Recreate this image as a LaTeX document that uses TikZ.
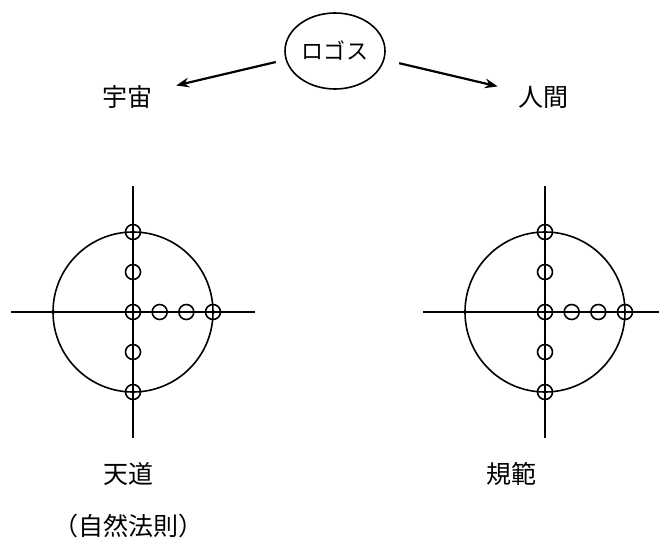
\documentclass[tikz,border=0pt]{standalone}
\usepackage{fontspec}
\newfontfamily\jpfont{Noto Sans CJK JP}
\usetikzlibrary{arrows.meta, positioning, calc, shapes.geometric}

\tikzset{
    word/.style={font=\jpfont\fontsize{25}{25}\selectfont, inner sep=0pt},
    pip/.style={circle, draw, minimum size=15pt, inner sep=0pt},
    ring/.style={circle, draw, minimum size=160pt, inner sep=0pt},
}

\begin{document}
\begin{tikzpicture}[>=Stealth, x=1pt, y=-1pt, line width=1.6pt]
    \useasboundingbox (0,0) rectangle (659,538);

    % -------------------------------------------------------------
    % Logos and its two branches
    % -------------------------------------------------------------
    \node (logos) [ellipse, draw, minimum width=100pt, minimum height=76pt,
        inner sep=0pt, font=\jpfont\fontsize{22}{22}\selectfont] at (335,51) {ロゴス};
    \node (uchu) [word] at (127,97) {宇宙};
    \node (ningen) [word] at (543,97) {人間};

    \draw[->, line width=2.2pt, shorten <=10pt, shorten >=24pt] (logos.190) -- ([yshift=6pt]uchu.east);
    \draw[->, line width=2.2pt, shorten <=15pt, shorten >=20pt] (logos.-10) -- ([yshift=6pt]ningen.west);

    % -------------------------------------------------------------
    % (left) cosmos: the way of heaven
    % -------------------------------------------------------------
    \begin{scope}[shift={(133,312)}]
        \node (R) [ring] at (0,0) {};
        \coordinate (T) at (0,-126);
        \coordinate (B) at (0,126);
        \coordinate (W) at (-122,0);
        \coordinate (E) at (122,0);

        \draw (T) -- (B);
        \draw (W) -- (E);
        \foreach \y in {-80,-40,0,40,80}
            \node[pip] at (0,\y) {};
        \foreach \i in {1,2,3}
            \node[pip] at (\i*80/3,0) {};
    \end{scope}
    \node (tendo) [word] at (128,474) {天道};
    \node (shizen) [word, below=27pt of tendo] {（自然法則）};

    % -------------------------------------------------------------
    % (right) humanity: the norm
    % -------------------------------------------------------------
    \begin{scope}[shift={(545,312)}]
        \node (R) [ring] at (0,0) {};
        \coordinate (T) at (0,-126);
        \coordinate (B) at (0,126);
        \coordinate (W) at (-122,0);
        \coordinate (E) at (114,0);

        \draw (T) -- (B);
        \draw (W) -- (E);
        \foreach \y in {-80,-40,0,40,80}
            \node[pip] at (0,\y) {};
        \foreach \i in {1,2,3}
            \node[pip] at (\i*80/3,0) {};
    \end{scope}
    \node (kihan) [word] at (511,474) {規範};

\end{tikzpicture}
\end{document}
